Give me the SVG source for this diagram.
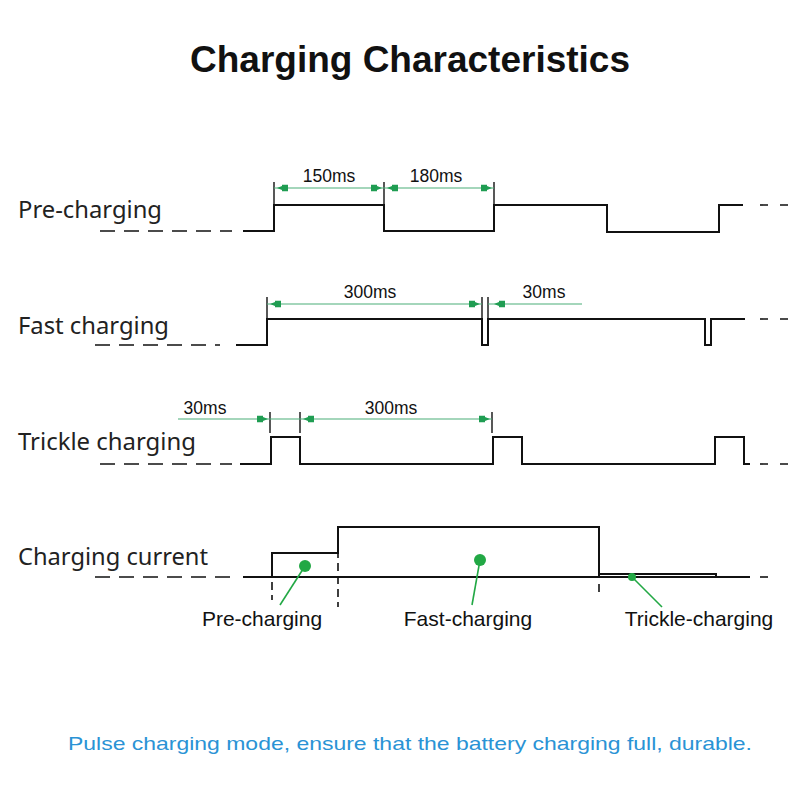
<svg xmlns="http://www.w3.org/2000/svg" xmlns:xlink="http://www.w3.org/1999/xlink" width="800" height="800" viewBox="0 0 800 800">
<style>
.title{font-family:"Liberation Sans",Arial,sans-serif;font-weight:bold;font-size:36px;fill:#111}
.row{font-family:"Noto Sans","Open Sans",sans-serif;font-size:23px;fill:#222}
.dim{font-family:"Liberation Sans",Arial,sans-serif;font-size:17.5px;fill:#111}
.lbl{font-family:"Liberation Sans",Arial,sans-serif;font-size:21px;fill:#111}
.note{font-family:"Liberation Sans",Arial,sans-serif;font-size:19px;fill:#2a93d5}
.wave{fill:none;stroke:#111;stroke-width:2}
.dash{fill:none;stroke:#111;stroke-width:1.6;stroke-dasharray:15 9}
.tdash{fill:none;stroke:#111;stroke-width:1.6;stroke-dasharray:8 12}
.vdash{fill:none;stroke:#111;stroke-width:1.6;stroke-dasharray:8 5}
.tick{stroke:#111;stroke-width:1.4}
.gline{stroke:#4aae78;stroke-width:1.2}
.arr{fill:#1f9d52}
.dot{fill:#22a845}
.lead{stroke:#22a845;stroke-width:1.6}
</style>
<defs>
<path id="aL" d="M0,0 L5,-2 L5,-3.2 L11,-3.2 L11,3.2 L5,3.2 L5,2 Z"/>
<path id="aR" d="M0,0 L-5,-2 L-5,-3.2 L-11,-3.2 L-11,3.2 L-5,3.2 L-5,2 Z"/>
</defs>
<rect width="800" height="800" fill="#fff"/>
<text class="title" x="410" y="72" text-anchor="middle" textLength="440" lengthAdjust="spacingAndGlyphs">Charging Characteristics</text>

<g id="pre-charging">
<text class="row" x="18" y="218" textLength="144" lengthAdjust="spacingAndGlyphs">Pre-charging</text>
<path class="dash" d="M100,231 H232"/>
<path class="wave" d="M243,231 H274 V205 H384 V231 H494 V205 H607 V232 H719 V205 H743"/>
<path class="tdash" d="M760,205 H790"/>
<line class="tick" x1="274" y1="182" x2="274" y2="204"/>
<line class="tick" x1="384" y1="182" x2="384" y2="204"/>
<line class="tick" x1="494" y1="182" x2="494" y2="204"/>
<line class="gline" x1="274" y1="188" x2="494" y2="188"/>
<use href="#aL" class="arr" x="277" y="188"/>
<use href="#aR" class="arr" x="382" y="188"/>
<use href="#aL" class="arr" x="387" y="188"/>
<use href="#aR" class="arr" x="492" y="188"/>
<text class="dim" x="329" y="182" text-anchor="middle">150ms</text>
<text class="dim" x="436" y="182" text-anchor="middle">180ms</text>
</g>

<g id="fast-charging">
<text class="row" x="18" y="334" textLength="151" lengthAdjust="spacingAndGlyphs">Fast charging</text>
<path class="dash" d="M95,345 H220"/>
<path class="wave" d="M236,345 H267 V319 H482 V345 H488 V319 H705 V345 H711 V319 H745"/>
<path class="tdash" d="M760,319 H790"/>
<line class="tick" x1="267" y1="297" x2="267" y2="318"/>
<line class="tick" x1="482" y1="297" x2="482" y2="318"/>
<line class="tick" x1="488" y1="297" x2="488" y2="318"/>
<line class="gline" x1="267" y1="304" x2="482" y2="304"/>
<line class="gline" x1="488" y1="304" x2="582" y2="304"/>
<use href="#aL" class="arr" x="270" y="304"/>
<use href="#aR" class="arr" x="480" y="304"/>
<use href="#aL" class="arr" x="494" y="304"/>
<text class="dim" x="370" y="298" text-anchor="middle">300ms</text>
<text class="dim" x="544" y="298" text-anchor="middle">30ms</text>
</g>

<g id="trickle-charging">
<text class="row" x="18" y="450" textLength="178" lengthAdjust="spacingAndGlyphs">Trickle charging</text>
<path class="dash" d="M100,464 H232"/>
<path class="wave" d="M240,464 H271 V437 H300 V464 H493 V437 H522 V464 H715 V437 H744 V464 H750"/>
<path class="tdash" d="M760,464 H790"/>
<line class="tick" x1="270" y1="412" x2="270" y2="433"/>
<line class="tick" x1="300" y1="412" x2="300" y2="433"/>
<line class="tick" x1="492" y1="412" x2="492" y2="433"/>
<line class="gline" x1="178" y1="419" x2="492" y2="419"/>
<use href="#aR" class="arr" x="268" y="419"/>
<use href="#aL" class="arr" x="303" y="419"/>
<use href="#aR" class="arr" x="490" y="419"/>
<text class="dim" x="205" y="414" text-anchor="middle">30ms</text>
<text class="dim" x="391" y="414" text-anchor="middle">300ms</text>
</g>

<g id="charging-current">
<text class="row" x="18" y="565" textLength="190" lengthAdjust="spacingAndGlyphs">Charging current</text>
<path class="dash" d="M95,577 H232"/>
<path class="wave" d="M243,577 H750"/>
<path class="tdash" d="M760,577 H775"/>
<path class="wave" d="M272,577 V553 H338 V527 H599 V577"/>
<path class="wave" stroke-width="1.4" d="M599,574 H716 V577"/>
<path class="vdash" d="M272,582 V600"/>
<path class="vdash" d="M338,550 V607"/>
<path class="vdash" d="M599,584 V594"/>
</g>

<g id="label-pre">
<line class="lead" x1="305" y1="566" x2="280" y2="605"/>
<circle class="dot" cx="305" cy="566" r="6"/>
<text class="lbl" x="262" y="626" text-anchor="middle">Pre-charging</text>
</g>
<g id="label-fast">
<line class="lead" x1="480" y1="560" x2="472" y2="605"/>
<circle class="dot" cx="480" cy="560" r="6"/>
<text class="lbl" x="468" y="626" text-anchor="middle">Fast-charging</text>
</g>
<g id="label-trickle">
<line class="lead" x1="632" y1="577" x2="662" y2="607"/>
<circle class="dot" cx="632" cy="577" r="4"/>
<text class="lbl" x="699" y="626" text-anchor="middle">Trickle-charging</text>
</g>

<text class="note" x="410" y="750" text-anchor="middle" textLength="684" lengthAdjust="spacingAndGlyphs">Pulse charging mode, ensure that the battery charging full, durable.</text>
</svg>
